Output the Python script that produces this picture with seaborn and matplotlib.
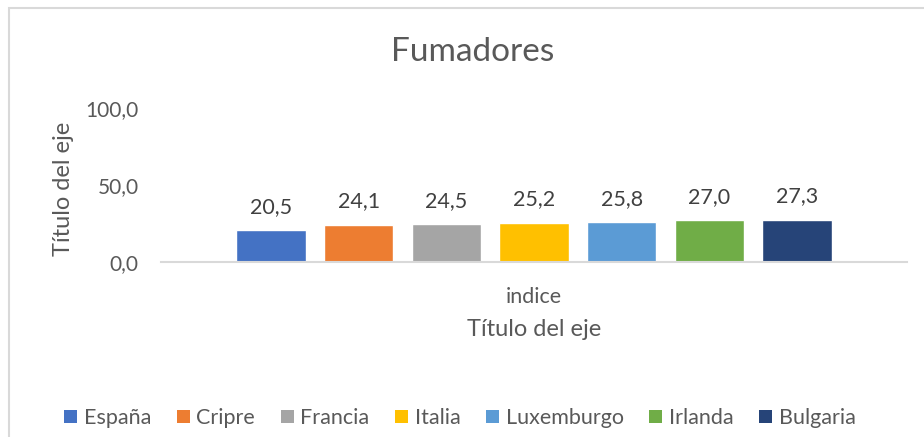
import matplotlib
matplotlib.use("Agg")
import matplotlib.pyplot as plt
import seaborn as sns
import pandas as pd
from matplotlib.patches import Rectangle, Patch

countries = ["España", "Cripre", "Francia", "Italia", "Luxemburgo", "Irlanda", "Bulgaria"]
values = [20.5, 24.1, 24.5, 25.2, 25.8, 27.0, 27.3]
category = ["indice"]
colors = ["#4472C4", "#ED7D31", "#A5A5A5", "#FFC000", "#5B9BD5", "#70AD47", "#264478"]
yticks = [0, 50, 100]

sns.set_theme(style="white")
plt.rcParams["font.family"] = ["Lato", "DejaVu Sans"]

df = pd.DataFrame({"cat": category * len(countries), "country": countries, "value": values})

fig = plt.figure(figsize=(9.24, 4.37), dpi=100)
ax = fig.add_axes([161/924, 1-262/437, (907-161)/924, (262-108)/437])

sns.barplot(data=df, x="cat", y="value", hue="country", hue_order=countries,
            palette=colors, width=0.823, gap=0.21, saturation=1, ax=ax,
            legend=False, errorbar=None)

for cont in ax.containers:
    for bar in cont:
        h = bar.get_height()
        ax.annotate(f"{h:.1f}".replace(".", ","),
                    (bar.get_x() + bar.get_width()/2, h),
                    xytext=(0, 17), textcoords="offset points",
                    ha="center", va="center", fontsize=15.5, color="#404040")

ax.set_ylim(0, 100)
ax.set_xlim(-0.5, 0.5)
ax.set_yticks(yticks)
ax.set_yticklabels([f"{v:.1f}".replace(".", ",") for v in yticks], fontsize=15, color="#595959")
ax.tick_params(axis="y", length=0, pad=16)
ax.tick_params(axis="x", length=0, pad=18, labelsize=15.5, labelcolor="#595959")
for s in ["top", "right", "left"]:
    ax.spines[s].set_visible(False)
ax.spines["bottom"].set_color("#D9D9D9")
ax.spines["bottom"].set_linewidth(1.5)
ax.set_xlabel("Título del eje", fontsize=17, color="#595959", labelpad=9)
ax.set_ylabel("Título del eje", fontsize=17, color="#595959")
ax.yaxis.set_label_coords((63-161)/746, (262-189)/154)
ax.yaxis.label.set_va("center")

fig.text(473/924, 1-52/437, "Fumadores", ha="center", va="center", fontsize=24, color="#595959")

handles = [Patch(facecolor=c, edgecolor="none") for c in colors]
fig.legend(handles, countries, loc="center", bbox_to_anchor=(460/924, 1-418/437),
           ncol=7, frameon=False, fontsize=15.5, handlelength=0.6, handleheight=0.6,
           handletextpad=0.3, columnspacing=1.2, labelcolor="#595959")

fig.patches.append(Rectangle((9/924, -0.1), 1.1, 1 - 8/437 + 0.1, transform=fig.transFigure,
                             fill=False, edgecolor="#D9D9D9", linewidth=1.5))

fig.savefig("out.png", dpi=100)
